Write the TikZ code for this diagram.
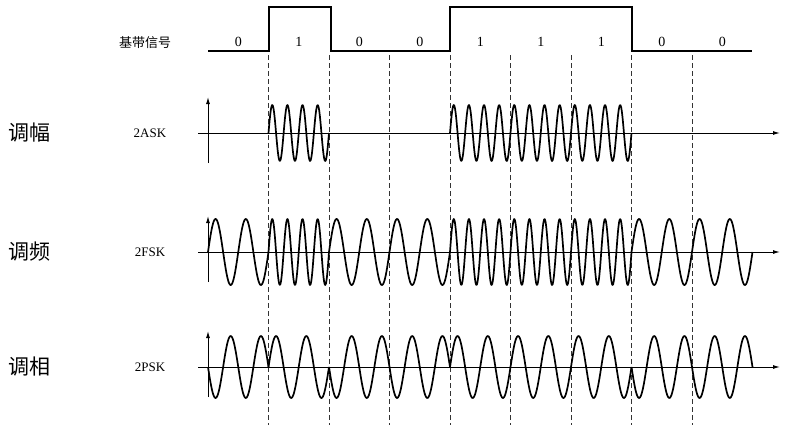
\documentclass[tikz,border=0pt]{standalone}
\usepackage{fontspec}
\setmainfont{Liberation Serif}
\newfontfamily\cjk{Noto Sans CJK SC}
\begin{document}
\begin{tikzpicture}[x=1pt,y=-1pt,
  wave/.style={line width=1.7pt,line join=round},
  axisln/.style={line width=1pt,-{Latex[length=7pt,width=4pt]}},
  sep/.style={dash pattern=on 5pt off 3pt,black!80,line width=0.8pt},
  sig/.style={font=\fontsize{13}{13}\selectfont},
  big/.style={font=\cjk\fontsize{21}{21}\selectfont},
  bitlbl/.style={font=\fontsize{14}{14}\selectfont}]
\usetikzlibrary{arrows.meta}
\useasboundingbox (0,0) rectangle (799,447);
\def\W{60.5}
% baseband
\draw[line width=1.5pt] (208,51) -- (269,51) -- (269,7) -- (331,7) -- (331,51) -- (450,51) -- (450,7) -- (632,7) -- (632,51) -- (752,51);
\node[font=\cjk\fontsize{13}{13}\selectfont] (bb) at (145,43) {基带信号};
\foreach \b [count=\i from 0] in {0,1,0,0,1,1,1,0,0}
  \node[bitlbl] (bit\i) at ({208+\W*(\i+0.5)},42) {\b};
% dashed separators
\foreach \i in {1,...,8}
  \draw[sep] ({208+\W*\i},55) -- ({208+\W*\i},425);
% axes
\foreach \y/\t/\n/\lab in {133/2ASK/ask/调幅,252/2FSK/fsk/调频,367/2PSK/psk/调相}{
  \draw[axisln] (198,\y) -- (780,\y);
  \draw[axisln] (208,\y+30) -- (208,\y-36);
  \node[sig] (\n) at (150,\y) {\t};
  \node[big] (\n l) at (30,\y) {\lab};
}
% ASK
\foreach \i in {1,4,5,6}
  \draw[wave] plot[domain=0:\W,samples=100,smooth] ({208+\W*\i+\x},{133-28*sin(4*(360/\W)*\x)});
% FSK
\foreach \b [count=\i from 0] in {0,1,0,0,1,1,1,0,0}{
  \pgfmathsetmacro{\n}{\b==1?4:2}
  \draw[wave] plot[domain=0:\W,samples=100,smooth] ({208+\W*\i+\x},{252-33*sin(\n*(360/\W)*\x)});
}
% PSK
\foreach \b [count=\i from 0] in {0,1,0,0,1,1,1,0,0}{
  \pgfmathsetmacro{\s}{\b==1?1:-1}
  \draw[wave] plot[domain=0:\W,samples=80,smooth] ({208+\W*\i+\x},{367-\s*31*sin(2*(360/\W)*\x)});
}
\end{tikzpicture}
\end{document}
